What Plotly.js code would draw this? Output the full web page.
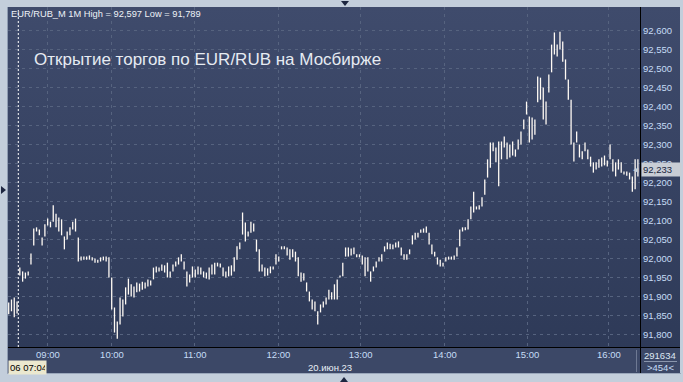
<!DOCTYPE html>
<html>
<head>
<meta charset="utf-8">
<script src="https://cdn.plot.ly/plotly-3.0.1.min.js"></script>
<style>
  html, body { margin: 0; padding: 0; }
  body { width: 683px; height: 382px; overflow: hidden; position: relative; background: #c3cedb; font-family: "Liberation Sans", Arial, sans-serif; }
  .abs { position: absolute; }
  #bgplot { left: 8px; top: 7px; width: 672px; height: 340px; background: linear-gradient(#3f4b6c, #2e3a58); }
  #bgbottom { left: 8px; top: 348px; width: 672px; height: 25px; background: #3c4867; }
  #hline { left: 8px; top: 347px; width: 672px; height: 1px; background: #000; }
  #vline { left: 640px; top: 7px; width: 1px; height: 366px; background: #000; }
  #vdiv { left: 636px; top: 350px; width: 1px; height: 22px; background: #6e7993; }
  #sep { left: 644px; top: 361px; width: 33px; height: 1px; background: #8a96ad; }
  #lframe { left: 7px; top: 7px; width: 1px; height: 366px; background: #8f9cb2; }
  #bframe { left: 7px; top: 373px; width: 674px; height: 1px; background: #9aa7bb; }
  #tri-top { left: 341px; top: 1px; width: 0; height: 0; border-left: 4px solid transparent; border-right: 4px solid transparent; border-top: 5px solid #1d2640; }
  #tri-bot { left: 340px; top: 377px; width: 0; height: 0; border-left: 4px solid transparent; border-right: 4px solid transparent; border-bottom: 5px solid #1d2640; }
  #tri-left { left: 1px; top: 186px; width: 0; height: 0; border-top: 4px solid transparent; border-bottom: 4px solid transparent; border-left: 5px solid #1d2640; }
  #chart { position: absolute; left: 0; top: 0; width: 683px; height: 382px; }
</style>
</head>
<body>
<div class="abs" id="bgplot"></div>
<div class="abs" id="bgbottom"></div>
<div class="abs" id="lframe"></div>
<div class="abs" id="bframe"></div>
<div class="abs" id="hline"></div>
<div class="abs" id="vline"></div>
<div class="abs" id="vdiv"></div>
<div class="abs" id="sep"></div>
<div class="abs" id="tri-top"></div>
<div class="abs" id="tri-bot"></div>
<div class="abs" id="tri-left"></div>
<div id="chart"></div>
<script>
// ---- Data (EUR/RUB_M, 1-minute bars, sampled every 2nd bar) ----
const chartTitle = "Открытие торгов по EUR/RUB на Мосбирже";
const headerText = "EUR/RUB_M 1M High = 92,597 Low = 91,789";
const dateLabel = "20.июн.23";
const cursorLabel = "06 07:04";
const volumeLabel = "291634";
const barsLabel = ">454<";
const lastPrice = 92.233;

const hourLabels = ["09:00", "10:00", "11:00", "12:00", "13:00", "14:00", "15:00", "16:00"];
const hourPos = [14.1, 37.1, 66.9, 96.9, 126.4, 156.7, 186.3, 215.6];
const yTicks = [91.80, 91.85, 91.90, 91.95, 92.00, 92.05, 92.10, 92.15, 92.20, 92.25, 92.30, 92.35, 92.40, 92.45, 92.50, 92.55, 92.60];

const barHigh = [
  91.884, 91.892, 91.897, 91.887, 91.976, 91.966, 91.963, 91.966, 92.013, 92.079,
  92.082, 92.076, 92.055, 92.090, 92.105, 92.097, 92.140, 92.118, 92.108, 92.103,
  92.058, 92.071, 92.082, 92.097, 92.105, 92.055, 92.005, 92.005, 92.005, 92.008,
  92.003, 92.000, 91.997, 92.003, 92.005, 92.005, 92.003, 91.950, 91.871, 91.834,
  91.897, 91.892, 91.924, 91.947, 91.932, 91.926, 91.937, 91.934, 91.939, 91.937,
  91.945, 91.942, 91.976, 91.979, 91.976, 91.984, 91.982, 91.989, 91.966, 91.984,
  91.992, 92.003, 92.011, 91.992, 91.966, 91.958, 91.979, 91.971, 91.979, 91.976,
  91.966, 91.963, 91.976, 91.984, 91.989, 91.989, 91.987, 91.976, 91.966, 91.979,
  91.982, 92.003, 92.032, 92.042, 92.121, 92.095, 92.071, 92.097, 92.092, 92.050,
  92.024, 91.984, 91.976, 91.974, 91.979, 91.979, 92.011, 92.005, 92.032, 92.032,
  92.029, 92.024, 92.024, 92.018, 92.003, 91.963, 91.961, 91.937, 91.913, 91.892,
  91.887, 91.861, 91.879, 91.887, 91.897, 91.918, 91.911, 91.932, 91.945, 91.955,
  91.989, 92.029, 92.029, 92.026, 92.029, 92.011, 92.011, 92.008, 92.003, 92.003,
  91.966, 91.979, 91.992, 92.003, 92.011, 92.032, 92.042, 92.039, 92.037, 92.042,
  92.045, 92.029, 92.011, 92.011, 92.024, 92.061, 92.068, 92.068, 92.076, 92.079,
  92.084, 92.068, 92.037, 92.018, 92.003, 91.997, 91.989, 92.003, 92.005, 92.005,
  92.008, 92.029, 92.076, 92.082, 92.082, 92.103, 92.137, 92.176, 92.137, 92.140,
  92.161, 92.208, 92.261, 92.305, 92.305, 92.292, 92.308, 92.308, 92.321, 92.305,
  92.300, 92.308, 92.287, 92.313, 92.334, 92.366, 92.413, 92.374, 92.371, 92.366,
  92.479, 92.476, 92.450, 92.413, 92.484, 92.563, 92.595, 92.563, 92.597, 92.571,
  92.524, 92.471, 92.418, 92.305, 92.334, 92.300, 92.282, 92.305, 92.287, 92.268,
  92.253, 92.253, 92.261, 92.266, 92.271, 92.258, 92.300, 92.261, 92.253, 92.261,
  92.253, 92.229, 92.229, 92.226, 92.216, 92.261, 92.261
];
const barLow = [
  91.853, 91.861, 91.845, 91.855, 91.955, 91.939, 91.947, 91.955, 91.984, 92.034,
  92.071, 92.061, 92.034, 92.058, 92.087, 92.082, 92.097, 92.082, 92.071, 92.061,
  92.024, 92.050, 92.061, 92.076, 92.071, 91.992, 91.995, 91.997, 91.997, 91.997,
  91.995, 91.989, 91.989, 91.992, 91.995, 91.992, 91.950, 91.866, 91.805, 91.789,
  91.826, 91.847, 91.879, 91.905, 91.900, 91.897, 91.911, 91.913, 91.918, 91.921,
  91.926, 91.929, 91.945, 91.963, 91.966, 91.968, 91.963, 91.950, 91.950, 91.966,
  91.979, 91.984, 91.992, 91.971, 91.926, 91.937, 91.950, 91.950, 91.958, 91.958,
  91.950, 91.947, 91.945, 91.958, 91.958, 91.979, 91.976, 91.953, 91.950, 91.953,
  91.955, 91.966, 91.997, 92.024, 92.063, 92.045, 92.058, 92.068, 92.071, 92.018,
  91.966, 91.966, 91.953, 91.955, 91.961, 91.971, 91.984, 91.992, 92.024, 92.024,
  92.008, 91.997, 92.003, 91.992, 91.953, 91.939, 91.942, 91.913, 91.887, 91.866,
  91.861, 91.826, 91.858, 91.871, 91.879, 91.892, 91.892, 91.892, 91.892, 91.950,
  91.953, 92.005, 92.005, 92.008, 92.011, 92.003, 92.003, 91.984, 91.953, 91.966,
  91.939, 91.966, 91.976, 91.992, 91.992, 92.018, 92.024, 92.024, 92.024, 92.029,
  92.029, 92.008, 91.997, 91.997, 92.011, 92.037, 92.050, 92.055, 92.068, 92.068,
  92.068, 92.037, 92.011, 92.005, 91.984, 91.979, 91.979, 91.992, 91.997, 91.997,
  91.997, 92.005, 92.032, 92.071, 92.074, 92.076, 92.103, 92.121, 92.129, 92.129,
  92.137, 92.168, 92.213, 92.239, 92.282, 92.253, 92.190, 92.261, 92.292, 92.261,
  92.266, 92.271, 92.268, 92.287, 92.300, 92.340, 92.379, 92.305, 92.313, 92.326,
  92.411, 92.418, 92.366, 92.353, 92.437, 92.490, 92.537, 92.532, 92.550, 92.518,
  92.471, 92.418, 92.300, 92.255, 92.305, 92.266, 92.261, 92.282, 92.261, 92.242,
  92.226, 92.234, 92.239, 92.242, 92.245, 92.242, 92.261, 92.229, 92.216, 92.234,
  92.226, 92.221, 92.218, 92.208, 92.176, 92.182, 92.216
];

// ---- Build bar segments (high-low) ----
const segX = [], segY = [];
barHigh.forEach((h, i) => {
  segX.push(i, i, null);
  segY.push(barLow[i], h, null);
});

const FONT = "Liberation Sans, Arial, sans-serif";
const px2x = px => (px - 8) / 632;   // layout helper: page pixel -> paper x
const py2y = py => (347 - py) / 340; // layout helper: page pixel -> paper y

const traces = [{
  type: "scatter", mode: "lines", x: segX, y: segY,
  line: { color: "#fffaf4", width: 1.3 }, hoverinfo: "skip", connectgaps: false
}];

const fmtPrice = v => v.toFixed(3).replace(".", ",");

const layout = {
  width: 683, height: 382,
  margin: { l: 8, r: 43, t: 7, b: 35, pad: 0 },
  paper_bgcolor: "rgba(0,0,0,0)", plot_bgcolor: "rgba(0,0,0,0)",
  separators: ",.",
  showlegend: false,
  font: { family: FONT },
  xaxis: {
    range: [-0.25, 226.75], tickmode: "array", tickvals: hourPos, ticktext: hourLabels,
    showgrid: true, gridcolor: "#56637f", gridwidth: 1, griddash: "3px,4px",
    zeroline: false, showline: false, ticks: "", ticklen: 0,
    tickfont: { family: FONT, size: 9.5, color: "#c6dcf6" }, fixedrange: true
  },
  yaxis: {
    side: "right", range: [91.767, 92.662], tickmode: "array", tickvals: yTicks,
    tickformat: ".3f", showgrid: true, gridcolor: "#56637f", gridwidth: 1, griddash: "3px,4px",
    zeroline: false, showline: false, ticks: "", ticklen: 0, ticklabelstandoff: 2,
    tickfont: { family: FONT, size: 9.5, color: "#c6dcf6" }, fixedrange: true
  },
  shapes: [
    { type: "line", xref: "paper", yref: "paper", x0: px2x(18.3), x1: px2x(18.3), y0: 0, y1: py2y(10),
      line: { color: "#ffffff", width: 1, dash: "2px,2px" } }
  ],
  annotations: [
    { xref: "paper", yref: "paper", x: px2x(9), y: py2y(14), xanchor: "left", yanchor: "middle",
      text: headerText, showarrow: false, font: { family: FONT, size: 9.3, color: "#eef2f7" } },
    { xref: "paper", yref: "paper", x: px2x(32), y: py2y(59), xanchor: "left", yanchor: "middle",
      text: chartTitle, showarrow: false, font: { family: FONT, size: 17, color: "#e6ebf2" } },
    { xref: "paper", yref: "y", x: 1, y: lastPrice, xanchor: "left", yanchor: "middle", xshift: 1,
      text: fmtPrice(lastPrice), showarrow: false, bgcolor: "#c8cdd5", borderpad: 1, width: 37, align: "left",
      font: { family: FONT, size: 9.5, color: "#16243d" } },
    { xref: "paper", yref: "y", x: 1, y: lastPrice, xanchor: "right", yanchor: "middle", xshift: 1,
      text: "◀", showarrow: false, font: { family: "DejaVu Sans", size: 7, color: "#c8cdd5" } },
    { xref: "paper", yref: "paper", x: px2x(330), y: py2y(367), xanchor: "center", yanchor: "middle",
      text: dateLabel, showarrow: false, font: { family: FONT, size: 9.5, color: "#e8eef6" } },
    { xref: "paper", yref: "paper", x: px2x(8), y: py2y(367), xanchor: "left", yanchor: "middle",
      text: cursorLabel, showarrow: false, bgcolor: "#ebe8cf", borderpad: 1, width: 35, align: "left",
      font: { family: FONT, size: 9.5, color: "#000000" } },
    { xref: "paper", yref: "paper", x: px2x(660), y: py2y(355), xanchor: "center", yanchor: "middle",
      text: volumeLabel, showarrow: false, font: { family: FONT, size: 9.5, color: "#dde6f2" } },
    { xref: "paper", yref: "paper", x: px2x(660), y: py2y(367), xanchor: "center", yanchor: "middle",
      text: barsLabel, showarrow: false, font: { family: FONT, size: 9.5, color: "#c6dcf6" } }
  ]
};

Plotly.newPlot("chart", traces, layout, { displayModeBar: false, staticPlot: true });
</script>
</body>
</html>
